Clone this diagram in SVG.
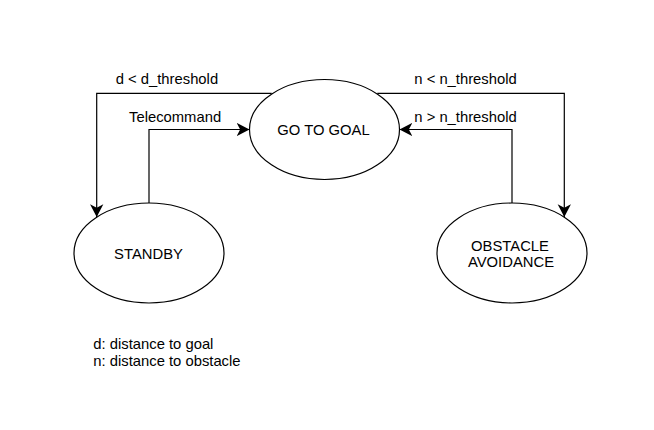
<svg xmlns="http://www.w3.org/2000/svg" width="654" height="430" viewBox="0 0 654 430">
  <style>
    .node { fill: #ffffff; stroke: #000000; stroke-width: 1.2; }
    .edge { fill: none; stroke: #000000; stroke-width: 1.2; }
    text { font-family: "Liberation Sans", Arial, sans-serif; font-size: 14.8px; fill: #000000; }
    .c { text-anchor: middle; }
  </style>
  <defs>
    <marker id="arrow" markerUnits="userSpaceOnUse" markerWidth="14" markerHeight="14" viewBox="0 0 12 12" refX="11" refY="6" orient="auto">
      <path d="M0,0.3 L11,6 L0,11.7 L3,6 Z" fill="#000000" stroke="none"/>
    </marker>
  </defs>
  <rect width="654" height="430" fill="#ffffff"/>
  <g id="connectors">
    <path class="edge" d="M271.7,93.3 H96.7 V217" marker-end="url(#arrow)"/>
    <path class="edge" d="M149,203 V129.5 H249.5" marker-end="url(#arrow)"/>
    <path class="edge" d="M377.3,93.3 H564.3 V217" marker-end="url(#arrow)"/>
    <path class="edge" d="M512,203 V129.5 H399.5" marker-end="url(#arrow)"/>
    <text x="115.7" y="84">d &lt; d_threshold</text>
    <text x="129" y="122.3">Telecommand</text>
    <text x="414.3" y="84">n &lt; n_threshold</text>
    <text x="414.3" y="122.3">n &gt; n_threshold</text>
  </g>
  <g id="go-to-goal">
    <ellipse class="node" cx="324.5" cy="129.5" rx="75" ry="50"/>
    <text class="c" x="323.5" y="134.5">GO TO GOAL</text>
  </g>
  <g id="standby">
    <ellipse class="node" cx="149" cy="253" rx="75" ry="50"/>
    <text class="c" x="148.5" y="259">STANDBY</text>
  </g>
  <g id="obstacle-avoidance">
    <ellipse class="node" cx="512" cy="253" rx="75" ry="50"/>
    <text class="c" x="510" y="250.7">OBSTACLE</text>
    <text class="c" x="511" y="267.3">AVOIDANCE</text>
  </g>
  <g id="legend">
    <text x="93.3" y="349.3">d: distance to goal</text>
    <text x="93.3" y="366">n: distance to obstacle</text>
  </g>
</svg>
